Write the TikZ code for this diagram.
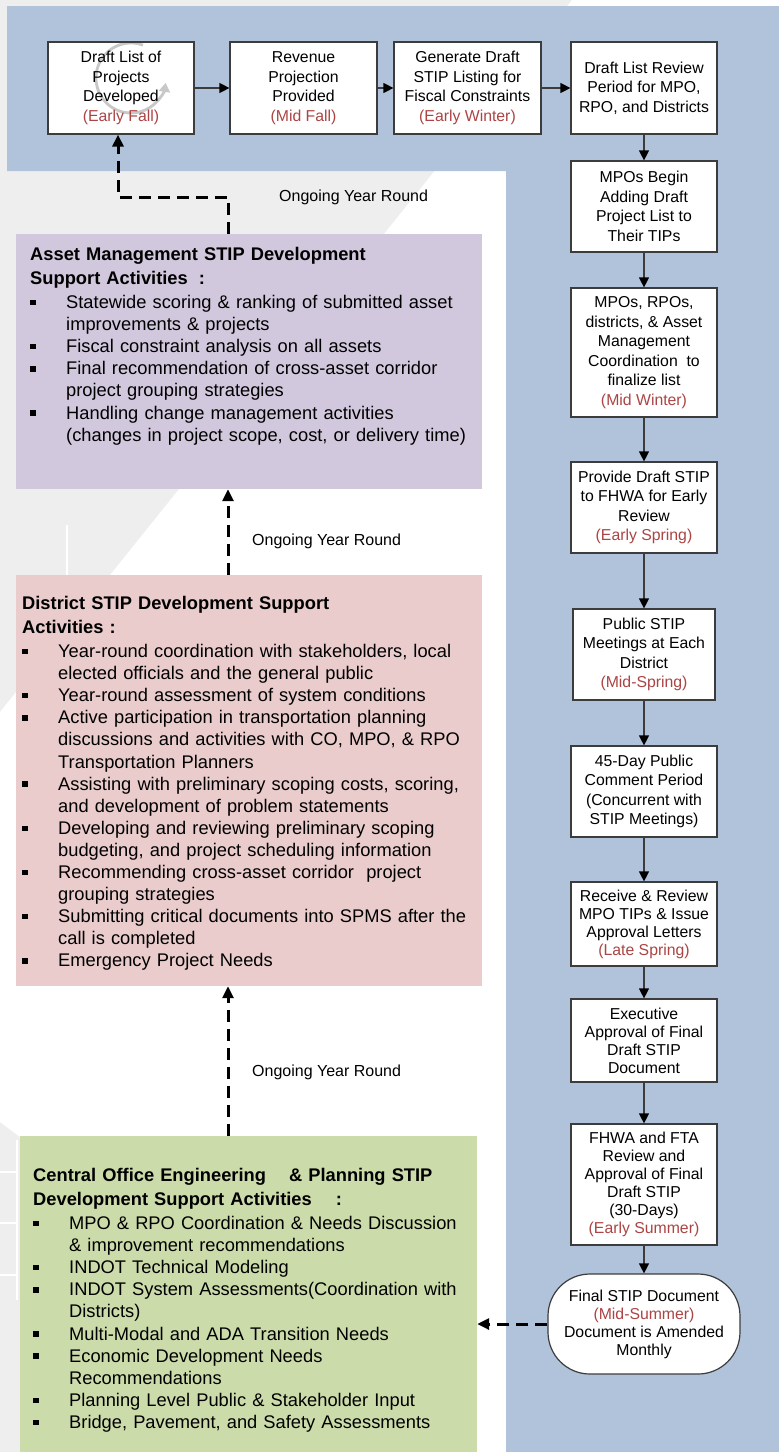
\documentclass[tikz,border=0pt]{standalone}
\usepackage{fontspec}
\setmainfont{Liberation Sans}
\usetikzlibrary{arrows.meta}
\definecolor{bggrey}{RGB}{238,238,238}
\definecolor{bandblue}{RGB}{176,195,219}
\definecolor{ampurple}{RGB}{210,200,222}
\definecolor{dcpink}{RGB}{234,204,204}
\definecolor{cegreen}{RGB}{204,219,170}
\definecolor{seasonred}{RGB}{172,68,68}
\definecolor{ringgrey}{RGB}{200,200,200}
\definecolor{edgegrey}{RGB}{60,60,60}
\newcommand\season[1]{\textcolor{seasonred}{#1}}
\newcommand\bitem{\par\noindent\hangindent=36pt\hangafter=1\makebox[36pt][l]{\raisebox{3.3pt}{\rule{5.5pt}{5.5pt}}}\ignorespaces}
\newcommand\brk{\hfil\break}
\begin{document}
\begin{tikzpicture}[x=1pt,y=-1pt,
 stepbox/.style={draw=edgegrey, line width=1.2pt, fill=white, align=center, inner sep=2pt, minimum width=146pt, font=\fontsize{15.8}{19.5}\selectfont},
 tightbox/.style={stepbox, font=\fontsize{15.8}{18}\selectfont},
 panel/.style={draw=none, inner sep=0pt, rectangle},
 listtext/.style={anchor=base west, inner sep=0pt, text width=455pt, font=\fontsize{18.3}{22.1}\selectfont},
 yearlbl/.style={anchor=west, inner sep=0pt, font=\fontsize{16}{19}\selectfont},
 flow/.style={draw=edgegrey, line width=1.2pt, -{Triangle[length=10pt,width=10pt,color=black]}},
 ongoing/.style={draw=black, line width=3pt, dash pattern=on 12pt off 7pt, -{Triangle[length=12pt,width=11pt]}}
]
\useasboundingbox (0,0) rectangle (779,1452);
% background
\fill[bggrey] (0,0) rectangle (779,1452);
\fill[white] (572,0) -- (779,0) -- (779,1452) -- (20,1452) -- (20,1137) -- (0,1122) -- (0,712) -- cycle;
\draw[white, line width=1.2pt] (67,525) -- (67,580);
\draw[white, line width=1.2pt] (0,1172) -- (17,1172) (0,1223) -- (17,1223) (0,1275) -- (17,1275) (17,1140) -- (17,1300);
\fill[bandblue] (7,6) -- (779,6) -- (779,1452) -- (506,1452) -- (506,171) -- (7,171) -- cycle;

% panels
\node[panel, fill=ampurple, minimum width=466pt, minimum height=255pt] (am) at (249,361.5) {};
\node[panel, fill=dcpink, minimum width=466pt, minimum height=411pt] (dc) at (249,780.5) {};
\node[panel, fill=cegreen, minimum width=457pt, minimum height=316pt] (ce) at (248.5,1294) {};

% panel texts
\node[listtext] (amtext) at (30,260) {\raggedright
{\bfseries Asset Management STIP Development\\[1.9pt]
Support Activities\hspace{11pt}:\par}\vspace{2.4pt}
\bitem Statewide scoring \& ranking of submitted asset\brk improvements \& projects
\bitem Fiscal constraint analysis on all assets
\bitem Final recommendation of cross-asset corridor\brk project grouping strategies
\bitem Handling change management activities\brk (changes in project scope, cost, or delivery time)\par};

\node[listtext] (dctext) at (22,609) {\raggedright
{\bfseries District STIP Development Support\\[1.9pt]
Activities :\par}\vspace{2.4pt}
\bitem Year-round coordination with stakeholders, local\brk elected officials and the general public
\bitem Year-round assessment of system conditions
\bitem Active participation in transportation planning\brk discussions and activities with CO, MPO, \& RPO\brk Transportation Planners
\bitem Assisting with preliminary scoping costs, scoring,\brk and development of problem statements
\bitem Developing and reviewing preliminary scoping\brk budgeting, and project scheduling information
\bitem Recommending cross-asset corridor\ \ project\brk grouping strategies
\bitem Submitting critical documents into SPMS after the\brk call is completed
\bitem Emergency Project Needs\par};

\node[listtext] (cetext) at (33,1181) {\raggedright
{\bfseries Central Office Engineering\hspace{23pt}\& Planning STIP\\[1.9pt]
Development Support Activities\hspace{24pt}:\par}\vspace{2.4pt}
\bitem MPO \& RPO Coordination \& Needs Discussion\brk \& improvement recommendations
\bitem INDOT Technical Modeling
\bitem INDOT System Assessments(Coordination with\brk Districts)
\bitem Multi-Modal and ADA Transition Needs
\bitem Economic Development Needs\brk Recommendations
\bitem Planning Level Public \& Stakeholder Input
\bitem Bridge, Pavement, and Safety Assessments\par};

% flow boxes
\node[stepbox, minimum height=92pt,
  path picture={\draw[ringgrey, line width=2.8pt, -{Triangle[length=9pt,width=11pt]}] ([shift={(10,-10)}]path picture bounding box.center) ++(-70:35) arc[start angle=-70, end angle=-352, radius=35];}]
  (b1) at (121,88) {Draft List of\\Projects\\Developed\\\season{(Early Fall)}};
\node[stepbox, minimum width=147pt, minimum height=92pt] (b2) at (303.5,88) {Revenue\\Projection\\Provided\\\season{(Mid Fall)}};
\node[stepbox, minimum width=147pt, minimum height=92pt] (b3) at (467.5,88) {Generate Draft\\STIP Listing for\\Fiscal Constraints\\\season{(Early Winter)}};
\node[stepbox, minimum height=92pt] (b4) at (644,88) {Draft List Review\\Period for MPO,\\RPO, and Districts};
\node[stepbox, minimum height=91pt] (b5) at (644,206.5) {MPOs Begin\\Adding Draft\\Project List to\\Their TIPs};
\node[stepbox, minimum height=129pt] (b6) at (644,352.5) {MPOs, RPOs,\\districts, \& Asset\\Management\\Coordination\ \ to\\finalize list\\\season{(Mid Winter)}};
\node[stepbox, minimum height=91pt] (b7) at (644,507.5) {Provide Draft STIP\\to FHWA for Early\\Review\\\season{(Early Spring)}};
\node[stepbox, minimum width=142pt, minimum height=91pt] (b8) at (644,654.5) {Public STIP\\Meetings at Each\\District\\\season{(Mid-Spring)}};
\node[stepbox, minimum height=91pt] (b9) at (644,791.5) {45-Day Public\\Comment Period\\(Concurrent with\\STIP Meetings)};
\node[tightbox, minimum height=84pt] (b10) at (644,924) {Receive \& Review\\MPO TIPs \& Issue\\Approval Letters\\\season{(Late Spring)}};
\node[tightbox, minimum height=83pt] (b11) at (644,1040.5) {Executive\\Approval of Final\\Draft STIP\\Document};
\node[tightbox, minimum height=121pt] (b12) at (644,1184.5) {FHWA and FTA\\Review and\\Approval of Final\\Draft STIP\\(30-Days)\\\season{(Early Summer)}};
\node[tightbox, rounded corners=42pt, minimum width=192pt, minimum height=100pt] (fin) at (644,1324) {Final STIP Document\\\season{(Mid-Summer)}\\Document is Amended\\Monthly};

% solid flow arrows
\draw[flow] (b1) -- (b2);
\draw[flow] (b2) -- (b3);
\draw[flow] (b3) -- (b4);
\draw[flow] (b4) -- (b5);
\draw[flow] (b5) -- (b6);
\draw[flow] (b6) -- (b7);
\draw[flow] (b7) -- (b8);
\draw[flow] (b8) -- (b9);
\draw[flow] (b9) -- (b10);
\draw[flow] (b10) -- (b11);
\draw[flow] (b11) -- (b12);
\draw[flow] (b12) -- (fin);

% dashed ongoing arrows
\coordinate (dx) at (228,0);
\coordinate (turn) at (118,197);
\draw[ongoing] (am.north -| dx) |- (turn) -- (turn |- b1.south);
\draw[ongoing] (dc.north -| dx) -- (am.south -| dx);
\draw[ongoing] (ce.north -| dx) -- (dc.south -| dx);
\draw[ongoing] (fin.west) -- (fin.west -| ce.east);

% labels
\node[yearlbl] (lab1) at (279,197) {Ongoing Year Round};
\node[yearlbl] (lab2) at (252,541) {Ongoing Year Round};
\node[yearlbl] (lab3) at (252,1072) {Ongoing Year Round};
\end{tikzpicture}
\end{document}
